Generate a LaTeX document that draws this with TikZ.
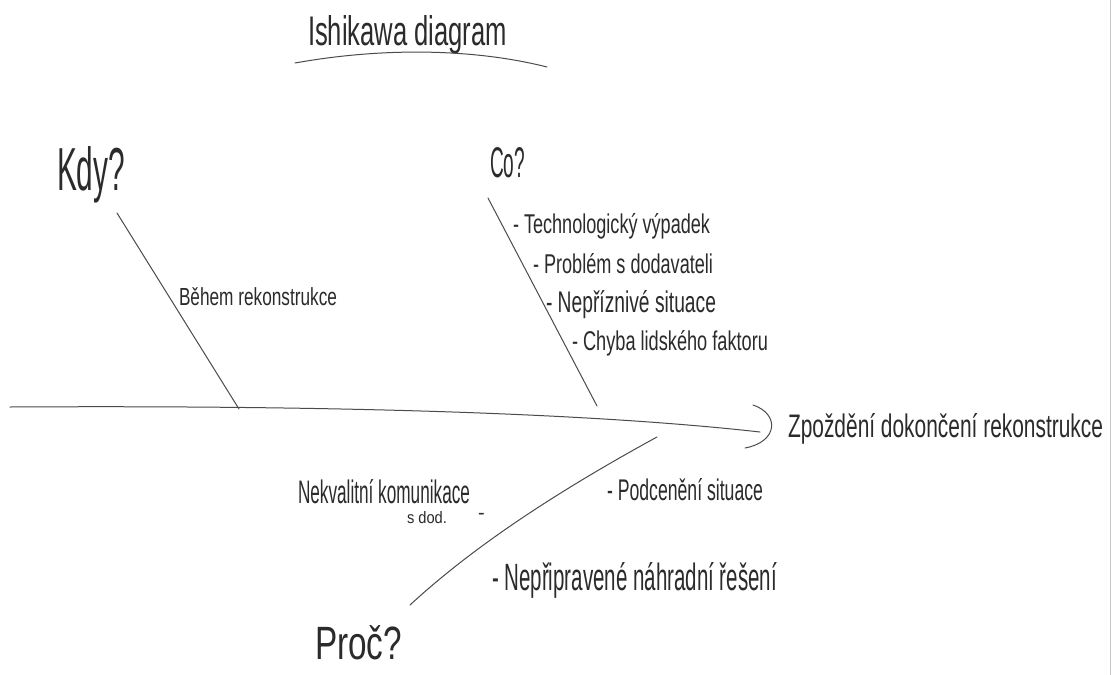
\documentclass[tikz,border=0pt]{standalone}
\usepackage{fontspec}
\setmainfont{Liberation Sans}
\usepackage{graphicx}
\definecolor{ink}{HTML}{2B2B2B}
\newcommand{\hwtext}[3]{\resizebox{#1pt}{#2pt}{#3}}
\tikzset{
  lbl/.style={inner sep=0pt, outer sep=0pt, anchor=base west, text=ink},
  bone/.style={draw=ink!85, line width=1pt, line cap=round},
  edge line/.style={draw=black!22, line width=1pt}
}
\begin{document}
\begin{tikzpicture}[x=1pt,y=-1pt]
\useasboundingbox[fill=white] (0,0) rectangle (1117,675);
% scanned page edge
\coordinate (e0) at (1110,0);
\coordinate (e1) at (1110,675);
\draw[edge line] (e0) -- (e1);

% title
\node[lbl] (title) at (308,45) {\hwtext{199}{30}{Ishikawa diagram}};
\coordinate (u0) at (295,63);
\coordinate (u1) at (547,67);
\draw[bone] (u0) .. controls (390,46) and (480,50) .. (u1);

% category heads
\node[lbl] (kdy) at (57,190) {\hwtext{68}{44}{Kdy?}};
\node[lbl] (co) at (490,177) {\hwtext{35}{30}{Co?}};
\node[lbl] (proc) at (315,659) {\hwtext{87}{34}{Proč?}};

% spine and head
\coordinate (s0) at (10,407);
\coordinate (s1) at (760,432);
\draw[bone] (s0) .. controls (350,405) and (600,414) .. (s1);
\coordinate (h0) at (753,405);
\coordinate (h1) at (745,448);
\draw[bone] (h0) .. controls (780,414) and (778,442) .. (h1);
\node[lbl] (effect) at (788,437) {\hwtext{315}{24}{Zpoždění dokončení rekonstrukce}};

% bones
\coordinate (k0) at (117,213);
\coordinate (k1) at (239,409);
\draw[bone] (k0) -- (k1);
\coordinate (c0) at (488,198);
\coordinate (cE) at (597,406);
\draw[bone] (c0) -- (cE);
\coordinate (p0) at (410,605);
\coordinate (pE) at (657,437);
\draw[bone] (p0) .. controls (475,545) and (560,490) .. (pE);

% causes
\node[lbl] (behem) at (179,305) {\hwtext{158}{18}{Během rekonstrukce}};
\node[lbl] (c1) at (513,233) {\hwtext{197}{20}{- Technologický výpadek}};
\node[lbl] (c2) at (533,273) {\hwtext{180}{20}{- Problém s dodavateli}};
\node[lbl] (c3) at (546,312) {\hwtext{170}{22}{- Nepříznivé situace}};
\node[lbl] (c4) at (572,350) {\hwtext{196}{20}{- Chyba lidského faktoru}};

\node[lbl] (p1) at (298,503) {\hwtext{172}{24}{Nekvalitní komunikace}};
\node[lbl] (p1b) at (407,523) {\hwtext{40}{12}{s dod.}};
\node[lbl, font=\fontsize{20}{20}\selectfont] (p1c) at (478,519) {-};
\node[lbl] (p2) at (607,500) {\hwtext{156}{22}{- Podcenění situace}};
\node[lbl] (p3) at (492,590) {\hwtext{285}{28}{- Nepřipravené náhradní řešení}};
\end{tikzpicture}
\end{document}
